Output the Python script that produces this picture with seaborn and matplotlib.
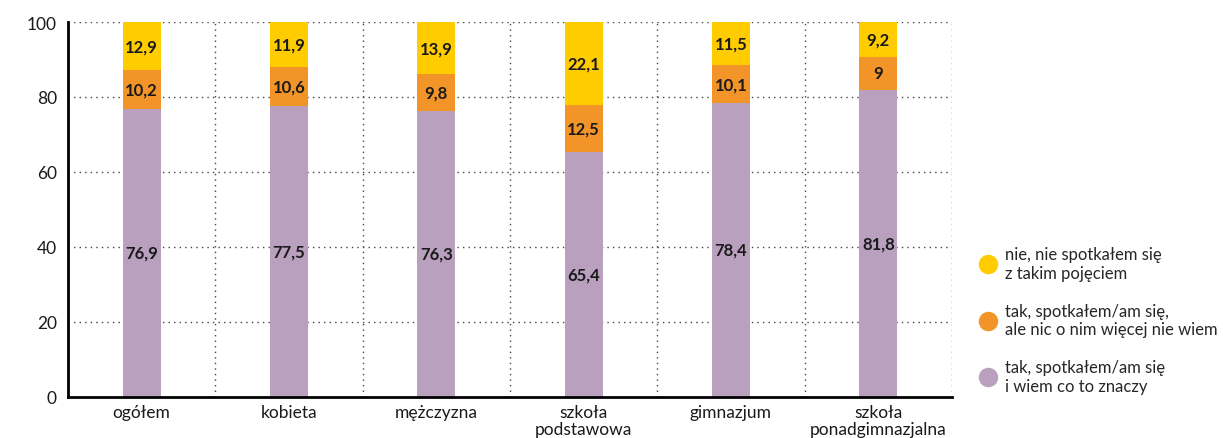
import matplotlib
matplotlib.use("Agg")
import matplotlib.pyplot as plt
from matplotlib.lines import Line2D
import pandas as pd
import seaborn as sns

categories = ["ogółem", "kobieta", "mężczyzna", "szkoła\npodstawowa", "gimnazjum", "szkoła\nponadgimnazjalna"]
know = [76.9, 77.5, 76.3, 65.4, 78.4, 81.8]
heard = [10.2, 10.6, 9.8, 12.5, 10.1, 9.0]
never = [12.9, 11.9, 13.9, 22.1, 11.5, 9.2]
series_labels = [
    "nie, nie spotkałem się\nz takim pojęciem",
    "tak, spotkałem/am się,\nale nic o nim więcej nie wiem",
    "tak, spotkałem/am się\ni wiem co to znaczy",
]
colors = {"never": "#FFCC00", "heard": "#F29427", "know": "#B8A0BE"}

sns.set_theme(style="white")
plt.rcParams["font.family"] = ["Lato", "DejaVu Sans"]

df = pd.DataFrame({"cat": categories, "know": know, "heard": heard, "never": never})
df["top_heard"] = df["know"] + df["heard"]
df["top_never"] = df["top_heard"] + df["never"]

fig = plt.figure(figsize=(12.23, 4.39), dpi=100)
ax = fig.add_axes([68 / 1223, 1 - 398 / 439, (952 - 68) / 1223, (398 - 23) / 439])

width = 0.26
for col, key in [("top_never", "never"), ("top_heard", "heard"), ("know", "know")]:
    sns.barplot(data=df, x="cat", y=col, order=categories, color=colors[key],
                width=width, saturation=1, linewidth=0, ax=ax, zorder=2)

# segment value labels
def fmt(v):
    s = f"{v:.1f}".replace(".", ",")
    return s[:-2] if s.endswith(",0") else s

for i in range(len(categories)):
    segs = [(0, know[i]), (know[i], heard[i]), (know[i] + heard[i], never[i])]
    for base, v in segs:
        ax.text(i, base + v / 2, fmt(v), ha="center", va="center",
                fontsize=12, fontweight="bold", color="#1a1a1a", zorder=4)

ax.set_xlim(-0.5, len(categories) - 0.5)
ax.set_ylim(0, 100)
ax.set_yticks([0, 20, 40, 60, 80, 100])
ax.set_xlabel("")
ax.set_ylabel("")
ax.tick_params(axis="both", length=0, labelsize=12.5, colors="#1a1a1a")
ax.tick_params(axis="y", pad=8)
ax.tick_params(axis="x", pad=5)
for lbl in ax.get_xticklabels():
    lbl.set_linespacing(1.1)

# dotted grid
dot = (0, (1, 3))
for y in [20, 40, 60, 80, 100]:
    ax.axhline(y, color="#444444", linestyle=dot, linewidth=1, zorder=1)
for x in [k + 0.5 for k in range(len(categories))]:
    ax.axvline(x, color="#444444", linestyle=dot, linewidth=1, zorder=1)

for side in ["top", "right"]:
    ax.spines[side].set_visible(False)
for side in ["left", "bottom"]:
    ax.spines[side].set_color("black")
    ax.spines[side].set_linewidth(2)
    ax.spines[side].set_zorder(5)

handles = [Line2D([], [], marker="o", linestyle="", markersize=13,
                  markerfacecolor=colors[k], markeredgecolor=colors[k])
           for k in ["never", "heard", "know"]]
fig.legend(handles, series_labels, loc="center left", bbox_to_anchor=(970 / 1223, 1 - 321 / 439),
           frameon=False, fontsize=12, handletextpad=0.4, labelspacing=1.3,
           handlelength=1.3, borderaxespad=0)

fig.savefig("out.png", dpi=100)
